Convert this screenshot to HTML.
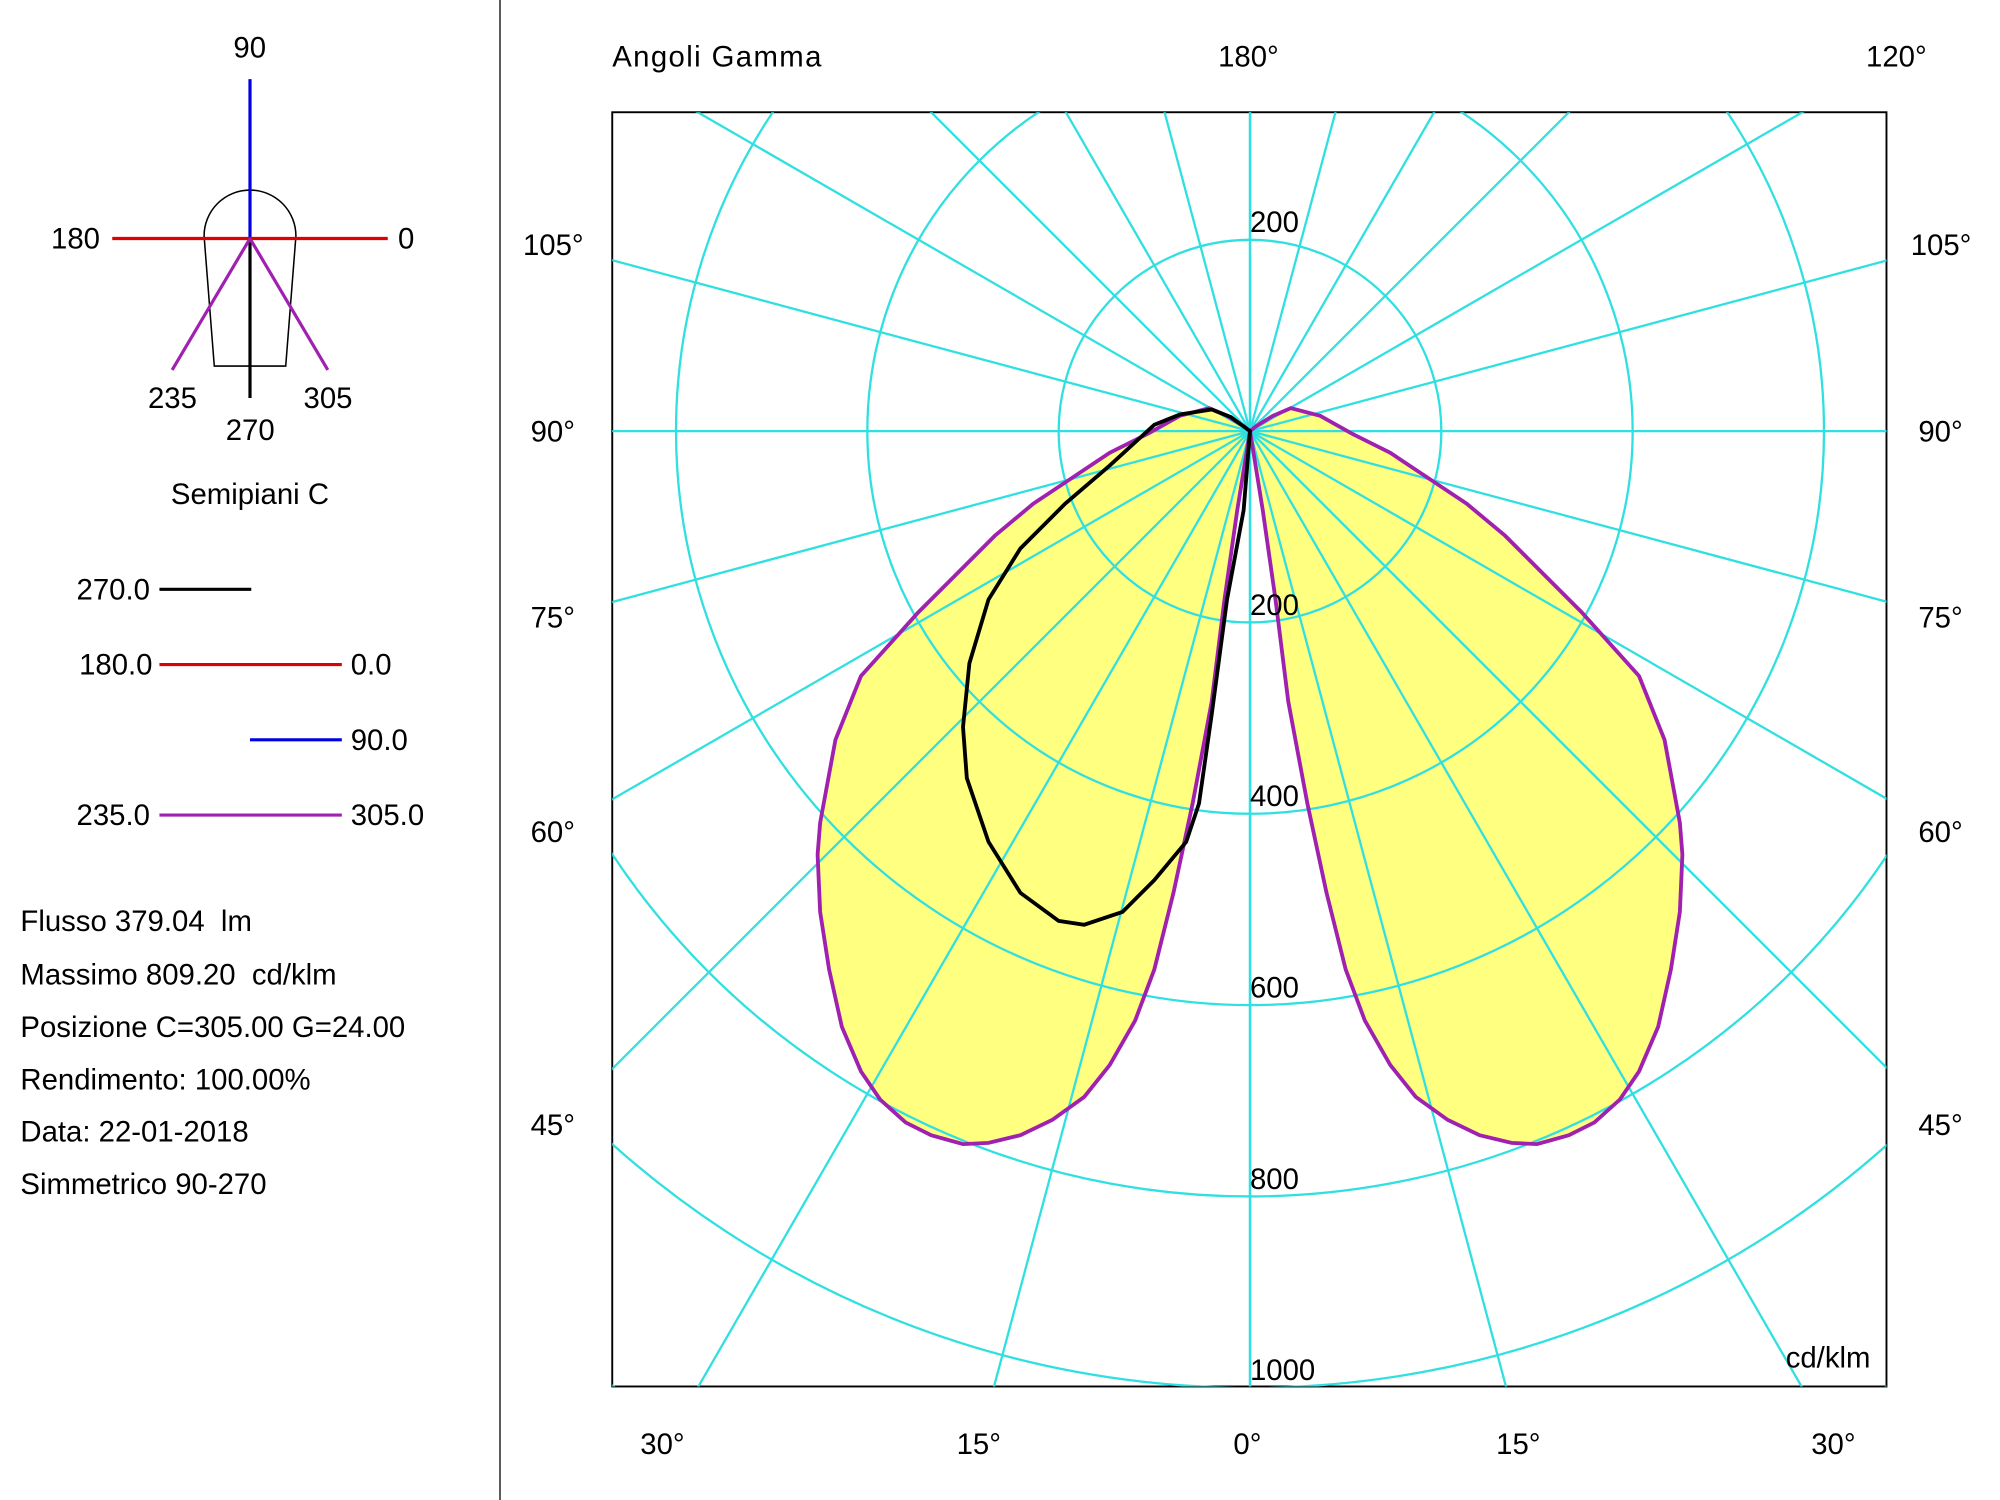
<!DOCTYPE html>
<html><head><meta charset="utf-8"><style>
html,body{margin:0;padding:0;background:#fff;width:2000px;height:1500px;overflow:hidden}
svg{display:block;position:absolute;left:0;top:0}
text{font-family:"Liberation Sans",sans-serif;font-size:23px;fill:#000}
</style></head><body>
<svg width="2000" height="1500" viewBox="0 0 1568 1176" xmlns="http://www.w3.org/2000/svg">
<defs><clipPath id="c"><rect x="480" y="88" width="999" height="999"/></clipPath>
<path id="lobe" d="M980,338 L990,400 L1000,470 L1010,550 L1025,630 L1040,700 L1055,760 L1070,800 L1090,835 L1110,860 L1135,878 L1160,890 L1185,896 L1205,897 L1230,890 L1250,880 L1270,862 L1285,840 L1300,805 L1310,760 L1317,715 L1319,670 L1317,645 L1305,580 L1285,530 L1240,480 L1210,450 L1180,420 L1150,395 L1120,375 L1090,355 L1060,340 L1035,326 L1012,320 L998,326 L985,334 Z"/>
</defs>
<line x1="392" y1="0" x2="392" y2="1176" stroke="#000" stroke-width="1"/>
<rect x="480" y="88" width="999" height="999" fill="#fff" stroke="#000" stroke-width="1.5"/>
<g fill="#ffff80" stroke="none">
<use href="#lobe"/>
<use href="#lobe" transform="translate(1960,0) scale(-1,1)"/>
</g>
<g clip-path="url(#c)" stroke="#30e0e0" stroke-width="1.8" fill="none">
<circle cx="980" cy="338" r="150"/><circle cx="980" cy="338" r="300"/><circle cx="980" cy="338" r="450"/><circle cx="980" cy="338" r="600"/><circle cx="980" cy="338" r="750"/><circle cx="980" cy="338" r="900"/>
<line x1="980" y1="338" x2="1290" y2="1495" transform="rotate(0,980,338)"/>
<line x1="980" y1="338" x2="1290" y2="1495" transform="rotate(15,980,338)"/>
<line x1="980" y1="338" x2="1290" y2="1495" transform="rotate(30,980,338)"/>
<line x1="980" y1="338" x2="1290" y2="1495" transform="rotate(45,980,338)"/>
<line x1="980" y1="338" x2="1290" y2="1495" transform="rotate(60,980,338)"/>
<line x1="980" y1="338" x2="1290" y2="1495" transform="rotate(75,980,338)"/>
<line x1="980" y1="338" x2="1290" y2="1495" transform="rotate(90,980,338)"/>
<line x1="980" y1="338" x2="1290" y2="1495" transform="rotate(105,980,338)"/>
<line x1="980" y1="338" x2="1290" y2="1495" transform="rotate(120,980,338)"/>
<line x1="980" y1="338" x2="1290" y2="1495" transform="rotate(135,980,338)"/>
<line x1="980" y1="338" x2="1290" y2="1495" transform="rotate(150,980,338)"/>
<line x1="980" y1="338" x2="1290" y2="1495" transform="rotate(165,980,338)"/>
<line x1="980" y1="338" x2="1290" y2="1495" transform="rotate(180,980,338)"/>
<line x1="980" y1="338" x2="1290" y2="1495" transform="rotate(195,980,338)"/>
<line x1="980" y1="338" x2="1290" y2="1495" transform="rotate(210,980,338)"/>
<line x1="980" y1="338" x2="1290" y2="1495" transform="rotate(225,980,338)"/>
<line x1="980" y1="338" x2="1290" y2="1495" transform="rotate(240,980,338)"/>
<line x1="980" y1="338" x2="1290" y2="1495" transform="rotate(255,980,338)"/>
<line x1="980" y1="338" x2="1290" y2="1495" transform="rotate(270,980,338)"/>
<line x1="980" y1="338" x2="1290" y2="1495" transform="rotate(285,980,338)"/>
<line x1="980" y1="338" x2="1290" y2="1495" transform="rotate(300,980,338)"/>
<line x1="980" y1="338" x2="1290" y2="1495" transform="rotate(315,980,338)"/>
<line x1="980" y1="338" x2="1290" y2="1495" transform="rotate(330,980,338)"/>
<line x1="980" y1="338" x2="1290" y2="1495" transform="rotate(345,980,338)"/>
<line x1="980" y1="338" x2="980" y2="1500"/><line x1="980" y1="338" x2="980" y2="-800"/>
</g>
<g fill="none" stroke="#a020b0" stroke-width="3">
<use href="#lobe"/>
<use href="#lobe" transform="translate(1960,0) scale(-1,1)"/>
</g>
<path d="M980,338 L975,400 L962,470 L950,560 L940,630 L930,660 L905,690 L880,715 L850,725 L830,722 L800,700 L775,660 L758,610 L755,570 L760,520 L775,470 L800,430 L835,395 L870,365 L905,333 L925,325 L950,321 L965,327 Z" fill="none" stroke="#000" stroke-width="3"/>
<text x="480" y="52" textLength="164">Angoli Gamma</text>
<text x="955" y="52">180°</text>
<text x="1463" y="52">120°</text>
<text x="410" y="200">105°</text><text x="1498" y="200">105°</text>
<text x="416" y="346">90°</text><text x="1504" y="346">90°</text>
<text x="416" y="492">75°</text><text x="1504" y="492">75°</text>
<text x="416" y="660">60°</text><text x="1504" y="660">60°</text>
<text x="416" y="890">45°</text><text x="1504" y="890">45°</text>
<text x="980" y="182">200</text><text x="980" y="482">200</text><text x="980" y="632">400</text>
<text x="980" y="782">600</text><text x="980" y="932">800</text><text x="980" y="1082">1000</text>
<text x="1400" y="1072">cd/klm</text>
<text x="502" y="1140">30°</text><text x="750" y="1140">15°</text><text x="967" y="1140">0°</text>
<text x="1173" y="1140">15°</text><text x="1420" y="1140">30°</text>
<path d="M168,287 L160,185 A36,36 0 0 1 232,185 L224,287 Z" fill="none" stroke="#000" stroke-width="1.2"/>
<line x1="196" y1="187" x2="196" y2="312" stroke="#000" stroke-width="2.5"/>
<line x1="196" y1="187" x2="196" y2="62" stroke="#0000e0" stroke-width="2.5"/>
<line x1="88" y1="187" x2="304" y2="187" stroke="#e00000" stroke-width="2.5"/>
<line x1="196" y1="187" x2="135" y2="290" stroke="#a020b0" stroke-width="2.5"/>
<line x1="196" y1="187" x2="257" y2="290" stroke="#a020b0" stroke-width="2.5"/>
<text x="183" y="45">90</text><text x="40" y="195">180</text><text x="312" y="195">0</text>
<text x="116" y="320">235</text><text x="238" y="320">305</text><text x="177" y="345">270</text>
<text x="134" y="395">Semipiani C</text>
<text x="60" y="470">270.0</text><line x1="125" y1="462" x2="197" y2="462" stroke="#000" stroke-width="2.5"/>
<text x="62" y="529">180.0</text><line x1="125" y1="521" x2="268" y2="521" stroke="#e00000" stroke-width="2.5"/><text x="275" y="529">0.0</text>
<line x1="196" y1="580" x2="268" y2="580" stroke="#0000e0" stroke-width="2.5"/><text x="275" y="588">90.0</text>
<text x="60" y="647">235.0</text><line x1="125" y1="639" x2="268" y2="639" stroke="#a020b0" stroke-width="2.5"/><text x="275" y="647">305.0</text>
<text x="16" y="730" xml:space="preserve">Flusso 379.04  lm</text>
<text x="16" y="772" xml:space="preserve">Massimo 809.20  cd/klm</text>
<text x="16" y="813">Posizione C=305.00 G=24.00</text>
<text x="16" y="854">Rendimento: 100.00%</text>
<text x="16" y="895">Data: 22-01-2018</text>
<text x="16" y="936">Simmetrico 90-270</text>
</svg>
</body></html>
